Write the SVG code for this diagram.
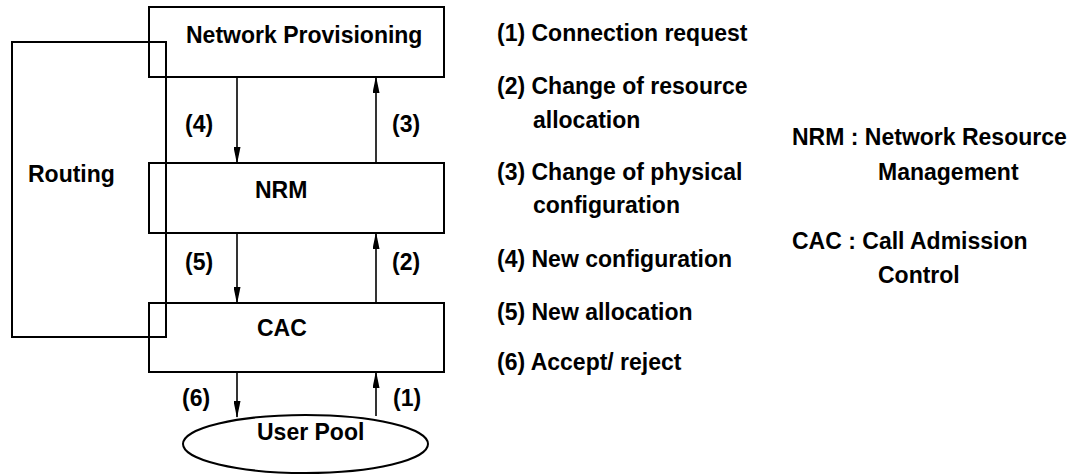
<svg xmlns="http://www.w3.org/2000/svg" width="1076" height="475" viewBox="0 0 1076 475">
<style>
text{font-family:"Liberation Sans",Arial,sans-serif;font-weight:bold;font-size:23px;fill:#000}
.box{fill:none;stroke:#000;stroke-width:2}
.ln{fill:none;stroke:#000;stroke-width:1.6}
</style>
<defs>
<marker id="ah" viewBox="0 0 17 7" refX="16" refY="3.5" markerWidth="17" markerHeight="7" markerUnits="userSpaceOnUse" orient="auto">
<path d="M0,0 L17,3.5 L0,7 Z" fill="#000"/>
</marker>
</defs>
<rect width="1076" height="475" fill="#fff"/>
<g id="routing">
<rect class="box" x="12" y="42" width="154" height="295"/>
<text x="28" y="182">Routing</text>
</g>
<g id="np">
<rect class="box" x="149" y="7" width="295" height="70"/>
<text x="186" y="43">Network Provisioning</text>
</g>
<g id="nrm">
<rect class="box" x="149" y="163" width="295" height="70"/>
<text x="255" y="198">NRM</text>
</g>
<g id="cac">
<rect class="box" x="149" y="303" width="295" height="69"/>
<text x="257" y="336">CAC</text>
</g>
<g id="userpool">
<ellipse class="box" cx="305.5" cy="444" rx="122.5" ry="29"/>
<text x="257" y="440">User Pool</text>
</g>
<g id="connectors">
<line class="ln" x1="237" y1="78" x2="237" y2="163" marker-end="url(#ah)"/>
<line class="ln" x1="376" y1="162" x2="376" y2="77" marker-end="url(#ah)"/>
<line class="ln" x1="237" y1="234" x2="237" y2="303" marker-end="url(#ah)"/>
<line class="ln" x1="376" y1="302" x2="376" y2="233" marker-end="url(#ah)"/>
<line class="ln" x1="237" y1="373" x2="237" y2="417" marker-end="url(#ah)"/>
<line class="ln" x1="376" y1="416" x2="376" y2="372" marker-end="url(#ah)"/>
<text x="185" y="132">(4)</text>
<text x="392" y="132">(3)</text>
<text x="185" y="270">(5)</text>
<text x="392" y="270">(2)</text>
<text x="182" y="406">(6)</text>
<text x="393" y="406">(1)</text>
</g>
<g id="legend">
<text x="497" y="41">(1) Connection request</text>
<text x="497" y="94">(2) Change of resource</text>
<text x="533" y="128">allocation</text>
<text x="497" y="180">(3) Change of physical</text>
<text x="533" y="213">configuration</text>
<text x="497" y="267">(4) New configuration</text>
<text x="497" y="320">(5) New allocation</text>
<text x="497" y="370">(6) Accept/ reject</text>
<text x="792" y="145">NRM : Network Resource</text>
<text x="878" y="180">Management</text>
<text x="792" y="249">CAC : Call Admission</text>
<text x="878" y="283">Control</text>
</g>
</svg>
